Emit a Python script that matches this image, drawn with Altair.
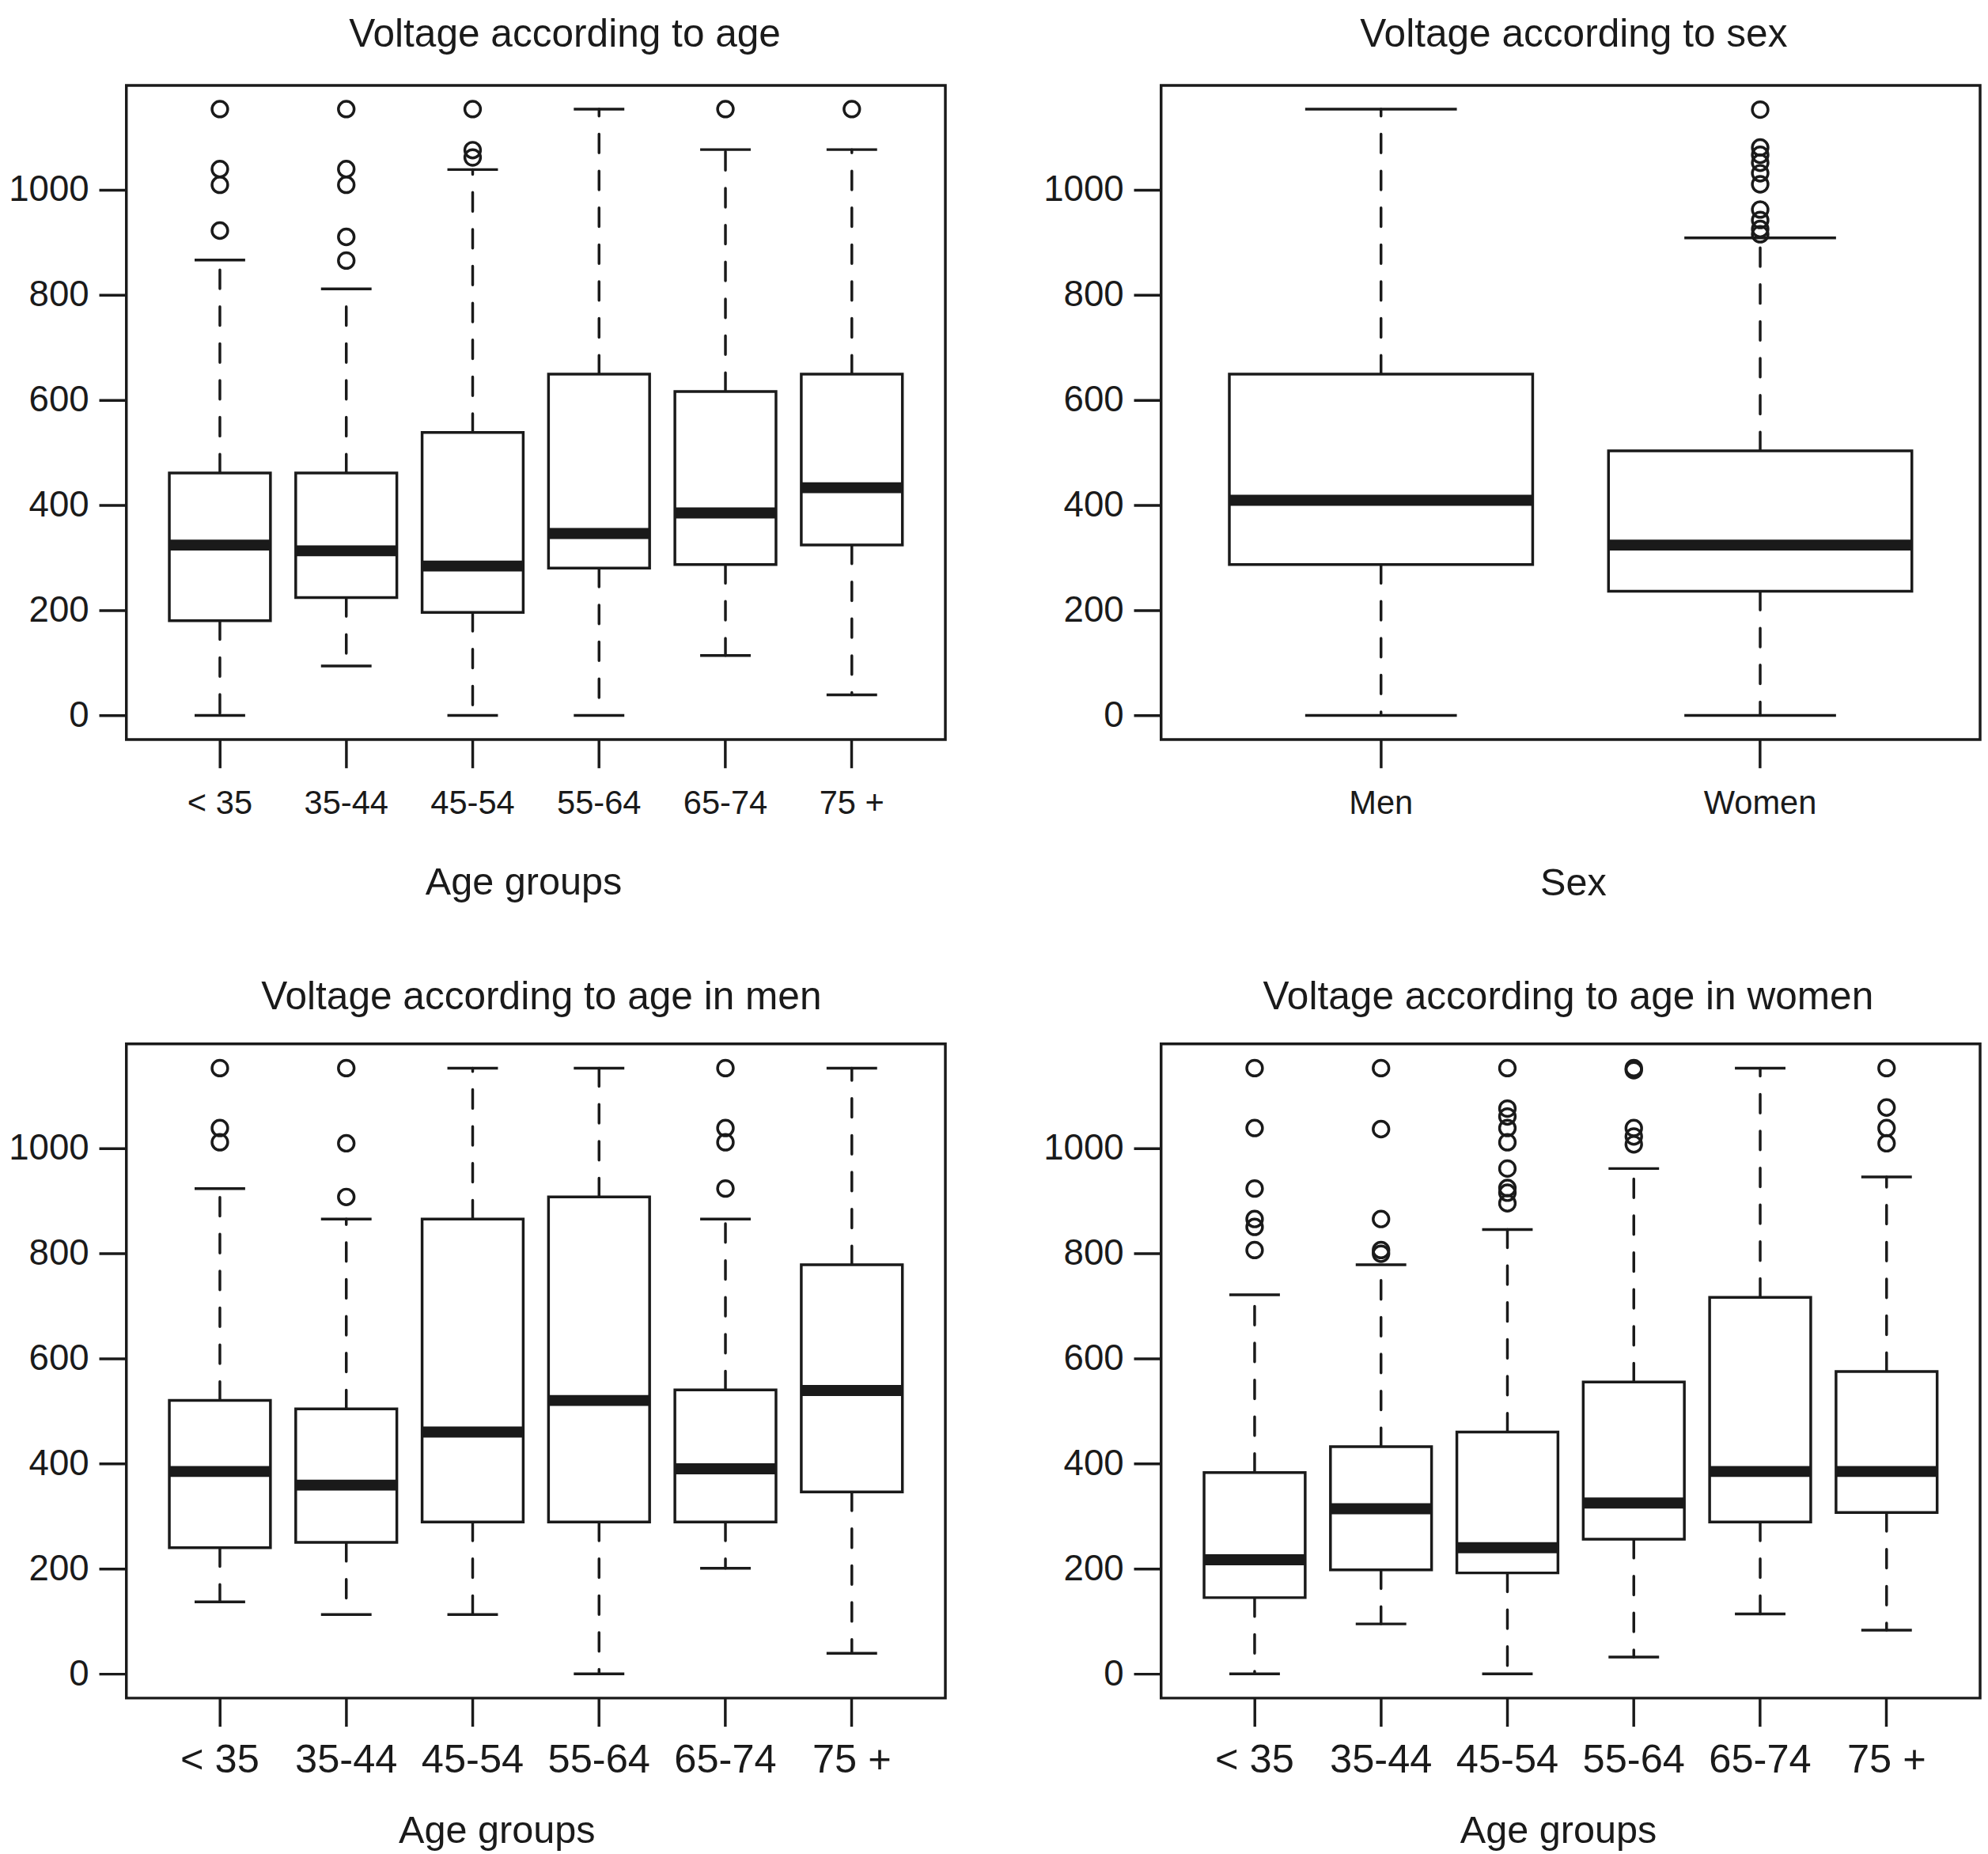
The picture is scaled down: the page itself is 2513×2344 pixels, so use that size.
"""Box plots of voltage by age group and sex, drawn in the style of R's boxplot()."""

import pandas as pd
import altair as alt

AGE_GROUPS = ["< 35", "35-44", "45-54", "55-64", "65-74", "75 +"]
SEXES = ["Men", "Women"]

# voltage according to age (all subjects)
all_lower = [0, 94, 0, 0, 114, 39]
all_q1 = [180, 224, 196, 280, 287, 324]
all_median = [324, 313, 284, 346, 385, 433]
all_q3 = [461, 461, 538, 649, 616, 649]
all_upper = [866, 811, 1038, 1153, 1076, 1076]
all_outliers = [
    [1153, 1039, 1009, 922],
    [1153, 1039, 1009, 910, 865],
    [1153, 1075, 1061],
    [],
    [1153],
    [1153],
]

# voltage according to sex
sex_lower = [0, 0]
sex_q1 = [287, 236]
sex_median = [409, 324]
sex_q3 = [649, 503]
sex_upper = [1153, 908]
sex_outliers = [
    [],
    [1152, 1080, 1066, 1051, 1031, 1010, 962, 942, 925, 915],
]

# voltage according to age in men
men_lower = [137, 113, 113, 0, 201, 39]
men_q1 = [240, 250, 289, 289, 289, 346]
men_median = [385, 359, 460, 520, 390, 539]
men_q3 = [520, 504, 865, 907, 540, 778]
men_upper = [923, 865, 1152, 1152, 865, 1152]
men_outliers = [
    [1152, 1038, 1011],
    [1152, 1009, 907],
    [],
    [],
    [1152, 1038, 1011, 923],
    [],
]

# voltage according to age in women
women_lower = [0, 95, 0, 32, 114, 83]
women_q1 = [145, 198, 192, 256, 289, 307]
women_median = [217, 314, 240, 325, 385, 385]
women_q3 = [383, 432, 460, 555, 716, 575]
women_upper = [721, 778, 845, 961, 1152, 945]
women_outliers = [
    [1152, 1038, 923, 865, 850, 806],
    [1152, 1036, 865, 806, 799],
    [1152, 1075, 1060, 1038, 1011, 961, 924, 915, 895],
    [1152, 1148, 1038, 1022, 1007],
    [],
    [1152, 1077, 1038, 1009],
]

Y_DOMAIN = [-46, 1198]
Y_TICKS = [0, 200, 400, 600, 800, 1000]
FONT = "Liberation Sans"
INK = "#1a1a1a"
LW = 3.5
PANEL_W = 1044
PANEL_H = 834


def make_panel(groups, lower, q1, median, q3, upper, outliers, title,
               title_dx, title_offset, x_title, x_title_x, x_title_y,
               label_size, label_pad):
    """Returns one R-style box plot panel."""
    stats = pd.DataFrame({
        'group': groups, 'lower': lower, 'q1': q1,
        'median': median, 'q3': q3, 'upper': upper
    })
    out = pd.DataFrame(
        [(g, v) for g, vals in zip(groups, outliers) for v in vals],
        columns=['group', 'value']
    )

    # R pads the category range by 4% on each side
    n = len(groups)
    pad_outer = 0.04 * n
    step = PANEL_W / (n + 2 * pad_outer)

    x = alt.X('group:N', sort=groups,
              scale=alt.Scale(paddingInner=0, paddingOuter=pad_outer),
              axis=alt.Axis(title=x_title, labelAngle=0, domain=False,
                            tickSize=36, tickWidth=LW, tickColor=INK,
                            labelFont=FONT, labelFontSize=label_size,
                            labelColor=INK, labelBaseline='alphabetic',
                            labelPadding=label_pad, labelOverlap=False,
                            titleFont=FONT, titleFontSize=49,
                            titleFontWeight='normal', titleColor=INK,
                            titleX=x_title_x, titleY=x_title_y,
                            titleAlign='center', titleBaseline='alphabetic'))
    y_scale = alt.Scale(domain=Y_DOMAIN, nice=False, zero=False)
    y_axis = alt.Axis(title=None, values=Y_TICKS, format='d', grid=False,
                      domain=False, tickSize=35, tickWidth=LW, tickColor=INK,
                      labelFont=FONT, labelFontSize=46, labelColor=INK,
                      labelPadding=13)

    base = alt.Chart(stats).encode(x=x)

    upper_whisker = base.mark_rule(
        color=INK, strokeWidth=LW, strokeDash=[24, 23], strokeCap='round'
    ).encode(y=alt.Y('q3:Q', scale=y_scale, axis=y_axis), y2='upper:Q')
    lower_whisker = base.mark_rule(
        color=INK, strokeWidth=LW, strokeDash=[24, 23], strokeCap='round'
    ).encode(y=alt.Y('q1:Q', scale=y_scale), y2='lower:Q')
    upper_cap = base.mark_tick(
        color=INK, thickness=LW, size=0.4 * step, opacity=1
    ).encode(y=alt.Y('upper:Q', scale=y_scale))
    lower_cap = base.mark_tick(
        color=INK, thickness=LW, size=0.4 * step, opacity=1
    ).encode(y=alt.Y('lower:Q', scale=y_scale))
    box = base.mark_bar(
        width=alt.RelativeBandSize(0.8), fill='white', stroke=INK,
        strokeWidth=LW
    ).encode(y=alt.Y('q1:Q', scale=y_scale), y2='q3:Q')
    med = base.mark_tick(
        color=INK, thickness=14, size=0.8 * step, opacity=1
    ).encode(y=alt.Y('median:Q', scale=y_scale))
    points = alt.Chart(out).mark_point(
        shape='circle', filled=False, size=400, strokeWidth=LW, color=INK,
        opacity=1
    ).encode(x=alt.X('group:N', sort=groups),
             y=alt.Y('value:Q', scale=y_scale))

    return alt.layer(
        upper_whisker, lower_whisker, upper_cap, lower_cap, box, med, points
    ).properties(
        width=PANEL_W,
        height=PANEL_H,
        title=alt.TitleParams(title, font=FONT, fontSize=50,
                              fontWeight='normal', color=INK,
                              anchor='middle', frame='group', dx=title_dx,
                              baseline='bottom', offset=title_offset)
    )


p1 = make_panel(AGE_GROUPS, all_lower, all_q1, all_median, all_q3,
                all_upper, all_outliers, "Voltage according to age",
                37, -11, "Age groups", 506, 197, 42, 58)
p2 = make_panel(SEXES, sex_lower, sex_q1, sex_median, sex_q3,
                sex_upper, sex_outliers, "Voltage according to sex",
                4, -11, "Sex", 525, 198, 42, 58)
p3 = make_panel(AGE_GROUPS, men_lower, men_q1, men_median, men_q3,
                men_upper, men_outliers, "Voltage according to age in men",
                7, -16, "Age groups", 472, 184, 51, 58)
p4 = make_panel(AGE_GROUPS, women_lower, women_q1, women_median, women_q3,
                women_upper, women_outliers,
                "Voltage according to age in women",
                -3, -16, "Age groups", 506, 184, 51, 58)

chart = alt.vconcat(
    alt.hconcat(p1, p2, spacing=120),
    alt.hconcat(p3, p4, spacing=120),
    spacing=92
).properties(
    padding=0,
    background='white'
).configure_view(
    stroke=INK,
    strokeWidth=LW
)

chart.save("out.html", embed_options={"renderer": "svg", "actions": False})
